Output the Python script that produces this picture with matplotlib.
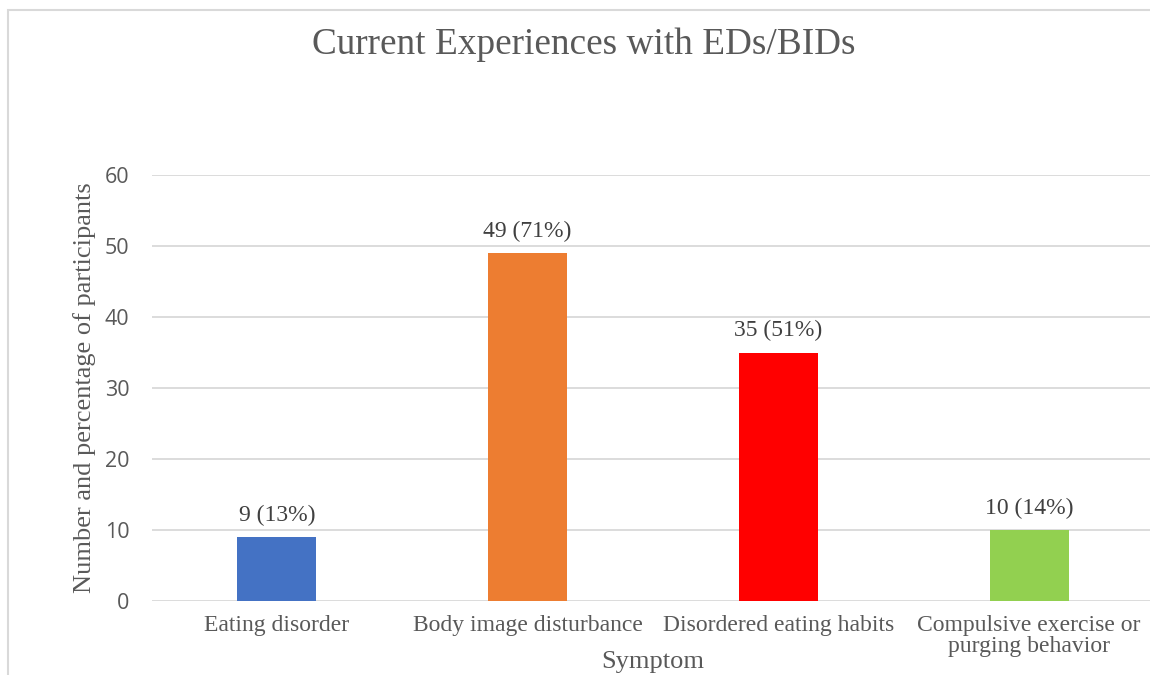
import matplotlib
matplotlib.use("Agg")
import matplotlib.pyplot as plt
from matplotlib.patches import Rectangle

categories = ["Eating disorder", "Body image disturbance", "Disordered eating habits",
              "Compulsive exercise or\npurging behavior"]
values = [9, 49, 35, 10]
labels = ["9 (13%)", "49 (71%)", "35 (51%)", "10 (14%)"]
colors = ["#4472C4", "#ED7D31", "#FF0000", "#92D050"]
yticks = [0, 10, 20, 30, 40, 50, 60]

W, H = 1150, 675
fig = plt.figure(figsize=(W / 100, H / 100), dpi=100)
fig.patch.set_facecolor("white")

# chart border (Excel chart area), cropped on right/bottom
fig.add_artist(Rectangle((8 / W, -0.1), 1.2, 1 - 10 / H + 0.1, transform=fig.transFigure,
                         fill=False, edgecolor="#d9d9d9", linewidth=1.5))

left, right = 151.5, 1154.5
top, bottom = 175, 601
ax = fig.add_axes([left / W, 1 - bottom / H, (right - left) / W, (bottom - top) / H])
ax.set_xlim(-0.5, 3.5)
ax.set_ylim(0, 60)

x = list(range(len(categories)))
ax.bar(x, values, width=0.315, color=colors, zorder=3)
for xi, v, lab in zip(x, values, labels):
    ax.annotate(lab, (xi, v), xytext=(0, 8), textcoords="offset points", ha="center", va="bottom",
                fontsize=17, color="#404040", family="Liberation Serif")

ax.set_yticks(yticks)
ax.set_yticklabels([str(t) for t in yticks], fontsize=15.5, color="#595959", family="Open Sans")
ax.set_xticks(x)
ax.set_xticklabels(categories, fontsize=17, color="#595959", family="Liberation Serif",
                   linespacing=1.0)
ax.tick_params(length=0, pad=10)
ax.tick_params(axis="y", pad=16)
ax.grid(axis="y", color="#d9d9d9", linewidth=1.3, zorder=0)
for s in ax.spines.values():
    s.set_visible(False)

fig.text(653 / W, 1 - 662 / H, "Symptom", ha="center", va="center", fontsize=19,
         color="#595959", family="Liberation Serif")
fig.text(85 / W, 1 - 388 / H, "Number and percentage of participants", ha="center", va="center",
         rotation=90, fontsize=19, color="#595959", family="Liberation Serif")
fig.text(584 / W, 1 - 45 / H, "Current Experiences with EDs/BIDs", ha="center", va="center",
         fontsize=26.8, color="#595959", family="Liberation Serif")

fig.savefig("out.png", dpi=100)
